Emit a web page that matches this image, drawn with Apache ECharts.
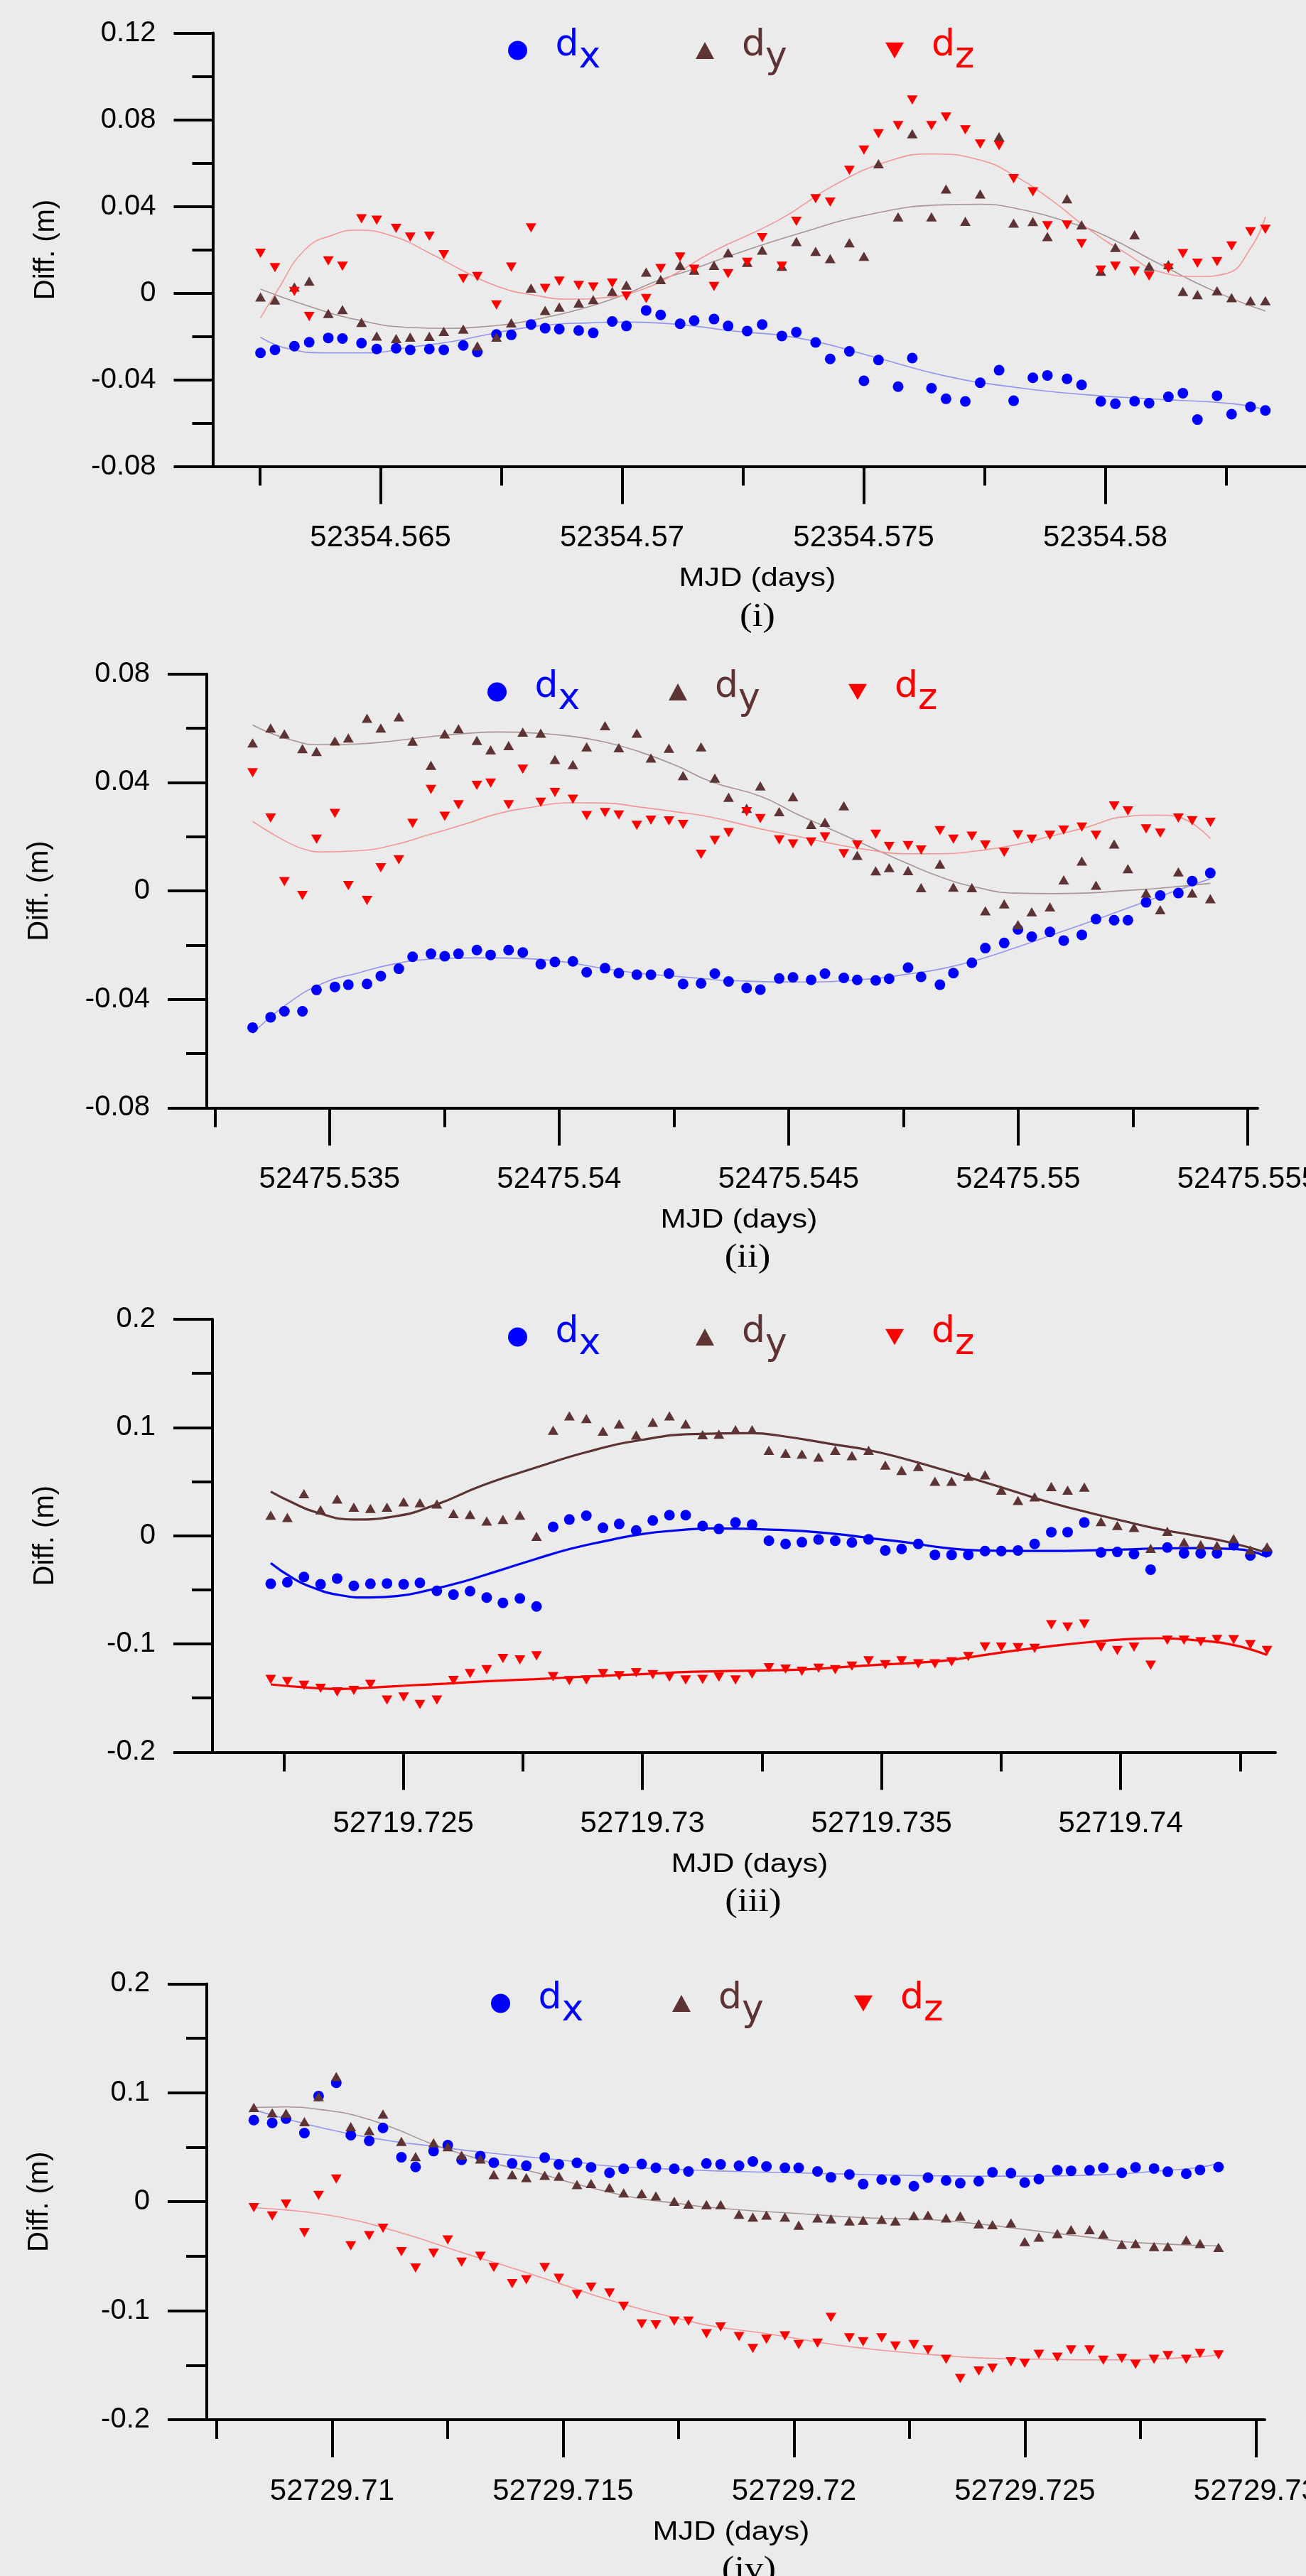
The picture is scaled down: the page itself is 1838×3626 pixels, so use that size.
<!DOCTYPE html>
<html>
<head>
<meta charset="utf-8">
<script src="https://cdn.jsdelivr.net/npm/echarts@6/dist/echarts.min.js"></script>
<style>
html,body{margin:0;padding:0;background:#ebebeb;}
#chart{width:1838px;height:3626px;}
</style>
</head>
<body>
<div id="chart"></div>
<script>
// ---------------- DATA ----------------
// Panel (i)
const p1T = [52354.562515,52354.562814,52354.563216,52354.563523,52354.563918,52354.564211,52354.564605,52354.56492,52354.565322,52354.565614,52354.566009,52354.566309,52354.566711,52354.567003,52354.567398,52354.567705,52354.568114,52354.568406,52354.568699,52354.569101,52354.569401,52354.569795,52354.570088,52354.570497,52354.570797,52354.571199,52354.571491,52354.571901,52354.572193,52354.572588,52354.572898,52354.573305,52354.573605,52354.574004,52354.574305,52354.574703,52354.575004,52354.575305,52354.575711,52354.576004,52354.576402,52354.576703,52354.577102,52354.57741,52354.577801,52354.578102,52354.5785,52354.578801,52354.579207,52354.579508,52354.579906,52354.580207,52354.580605,52354.580906,52354.581305,52354.581605,52354.581906,52354.582312,52354.582613,52354.583004,52354.583312];
const p1Dx = [-0.0276,-0.0262,-0.0245,-0.0227,-0.0207,-0.0210,-0.0231,-0.0258,-0.0255,-0.0262,-0.0258,-0.0262,-0.0242,-0.0272,-0.0191,-0.0193,-0.0145,-0.0162,-0.0166,-0.0173,-0.0184,-0.0131,-0.0152,-0.0080,-0.0101,-0.0142,-0.0127,-0.0120,-0.0152,-0.0175,-0.0145,-0.0198,-0.0180,-0.0228,-0.0304,-0.0269,-0.0405,-0.0309,-0.0432,-0.0300,-0.0439,-0.0488,-0.0500,-0.0414,-0.0356,-0.0497,-0.0391,-0.0380,-0.0396,-0.0424,-0.0500,-0.0511,-0.0499,-0.0508,-0.0479,-0.0462,-0.0584,-0.0474,-0.0559,-0.0525,-0.0542];
const p1Dy = [-0.0018,-0.0032,0.0028,0.0055,-0.0094,-0.0076,-0.0135,-0.0198,-0.0210,-0.0203,-0.0200,-0.0177,-0.0166,-0.0244,-0.0203,-0.0138,0.0023,-0.0080,-0.0065,-0.0046,-0.0030,0.0007,0.0037,0.0097,0.0062,0.0128,0.0106,0.0128,0.0186,0.0142,0.0198,0.0124,0.0238,0.0193,0.0159,0.0232,0.0170,0.0597,0.0352,0.0735,0.0352,0.0480,0.0331,0.0457,0.0721,0.0323,0.0330,0.0261,0.0435,0.0315,0.0101,0.0211,0.0269,0.0124,0.0131,0.0007,-0.0007,0.0011,-0.0021,-0.0035,-0.0035];
const p1Dz = [0.0184,0.0117,0.0007,-0.0108,0.0148,0.0124,0.0343,0.0336,0.0298,0.0258,0.0262,0.0177,0.0066,0.0076,-0.0055,0.0120,0.0301,0.0021,0.0055,0.0035,0.0028,0.0046,-0.0014,-0.0025,0.0113,0.0166,0.0110,0.0030,0.0089,0.0142,0.0256,0.0124,0.0331,0.0435,0.0420,0.0566,0.0660,0.0735,0.0773,0.0891,0.0773,0.0812,0.0753,0.0688,0.0680,0.0528,0.0467,0.0311,0.0314,0.0228,0.0106,0.0124,0.0101,0.0079,0.0115,0.0182,0.0138,0.0145,0.0217,0.0283,0.0294];
const p1FitDx = [[52354.562515,-0.0204],[52354.56307,-0.0256],[52354.563874,-0.0276],[52354.564751,-0.0276],[52354.565629,-0.0249],[52354.56636,-0.0228],[52354.567091,-0.0197],[52354.567822,-0.0166],[52354.568553,-0.0145],[52354.569284,-0.0138],[52354.570015,-0.0134],[52354.570746,-0.0138],[52354.571477,-0.0152],[52354.572208,-0.0173],[52354.573628,-0.0207],[52354.575132,-0.029],[52354.576635,-0.038],[52354.578139,-0.0435],[52354.579643,-0.047],[52354.581147,-0.0491],[52354.58265,-0.0511],[52354.583312,-0.0539]];
const p1FitDy = [[52354.562515,0.0018],[52354.563436,-0.0055],[52354.564532,-0.0124],[52354.565629,-0.0159],[52354.56636,-0.0163],[52354.567091,-0.0156],[52354.567822,-0.0138],[52354.568553,-0.0106],[52354.569284,-0.0065],[52354.570015,-0.001],[52354.570746,0.0058],[52354.571477,0.0111],[52354.572208,0.017],[52354.573628,0.0273],[52354.575132,0.0363],[52354.576635,0.0407],[52354.577387,0.041],[52354.578139,0.0391],[52354.579267,0.0325],[52354.580019,0.0262],[52354.581147,0.0131],[52354.582274,0.0007],[52354.583312,-0.0083]];
const p1FitDz = [[52354.562515,-0.0115],[52354.562851,0.0007],[52354.563436,0.02],[52354.56402,0.0269],[52354.564532,0.029],[52354.565263,0.0262],[52354.565994,0.0187],[52354.566725,0.0101],[52354.567456,0.0028],[52354.568187,-0.001],[52354.568918,-0.0028],[52354.569649,-0.0021],[52354.57038,0.0014],[52354.571111,0.009],[52354.571842,0.0187],[52354.573252,0.0338],[52354.57438,0.0497],[52354.575508,0.0608],[52354.57641,0.0642],[52354.577387,0.0615],[52354.578139,0.0539],[52354.578891,0.0428],[52354.579643,0.0297],[52354.580395,0.0188],[52354.581147,0.0097],[52354.581899,0.0076],[52354.5825,0.009],[52354.583026,0.0214],[52354.583312,0.0352]];

// Panel (ii)
const p2T = [52475.533323,52475.533715,52475.534015,52475.534408,52475.534715,52475.535115,52475.535408,52475.535815,52475.536115,52475.536508,52475.536808,52475.537208,52475.537508,52475.537808,52475.538208,52475.538508,52475.5389,52475.539208,52475.5396,52475.539908,52475.5403,52475.5406,52475.541,52475.5413,52475.541692,52475.542,52475.542392,52475.5427,52475.543092,52475.543392,52475.543692,52475.544085,52475.544383,52475.544794,52475.545095,52475.54549,52475.545791,52475.546202,52475.546494,52475.546897,52475.54719,52475.547601,52475.547885,52475.548296,52475.548589,52475.548992,52475.549285,52475.549696,52475.549996,52475.550296,52475.550692,52475.550992,52475.551387,52475.551696,52475.552091,52475.552391,52475.552787,52475.553095,52475.55349,52475.553791,52475.554186];
const p2Dx = [-0.0504,-0.0466,-0.0444,-0.0444,-0.0365,-0.0354,-0.0346,-0.0343,-0.0314,-0.0287,-0.0243,-0.0232,-0.0241,-0.0232,-0.0218,-0.0236,-0.0218,-0.0227,-0.0270,-0.0262,-0.0260,-0.0300,-0.0285,-0.0303,-0.0309,-0.0309,-0.0305,-0.0343,-0.0341,-0.0305,-0.0334,-0.0358,-0.0364,-0.0323,-0.0319,-0.0328,-0.0305,-0.0321,-0.0328,-0.0330,-0.0324,-0.0283,-0.0317,-0.0346,-0.0303,-0.0265,-0.0211,-0.0192,-0.0142,-0.0169,-0.0151,-0.0183,-0.0162,-0.0104,-0.0108,-0.0108,-0.0042,-0.0017,-0.0008,0.0036,0.0066];
const p2Dy = [0.0546,0.0601,0.0579,0.0525,0.0514,0.0553,0.0564,0.0637,0.0601,0.0642,0.0552,0.0463,0.0579,0.0598,0.0555,0.0520,0.0536,0.0586,0.0582,0.0485,0.0466,0.0531,0.0609,0.0528,0.0582,0.0490,0.0526,0.0425,0.0531,0.0416,0.0345,0.0305,0.0387,0.0292,0.0347,0.0245,0.0253,0.0314,0.0131,0.0074,0.0086,0.0075,0.0012,0.0099,0.0014,0.0012,-0.0073,-0.0048,-0.0124,-0.0077,-0.0059,0.0041,0.0110,0.0021,0.0173,0.0082,-0.0008,-0.0069,0.0070,-0.0008,-0.0029];
const p2Dz = [0.0436,0.0269,0.0034,-0.0017,0.0191,0.0286,0.0020,-0.0035,0.0085,0.0115,0.0249,0.0374,0.0275,0.0318,0.0389,0.0398,0.0318,0.0449,0.0327,0.0363,0.0338,0.0278,0.0289,0.0280,0.0242,0.0261,0.0258,0.0245,0.0135,0.0186,0.0215,0.0292,0.0267,0.0188,0.0173,0.0180,0.0199,0.0137,0.0169,0.0209,0.0164,0.0167,0.0151,0.0222,0.0191,0.0202,0.0169,0.0142,0.0207,0.0191,0.0205,0.0224,0.0235,0.0205,0.0313,0.0295,0.0229,0.0213,0.0269,0.0259,0.0253];
const p2FitDx = [[52475.533323,-0.0526],[52475.534077,-0.0417],[52475.534846,-0.0341],[52475.535615,-0.0303],[52475.536385,-0.027],[52475.537154,-0.0252],[52475.537923,-0.0247],[52475.538692,-0.0247],[52475.539462,-0.0251],[52475.540231,-0.0265],[52475.541,-0.0287],[52475.541769,-0.0304],[52475.542538,-0.0315],[52475.543308,-0.0326],[52475.543593,-0.033],[52475.545174,-0.0336],[52475.546755,-0.0325],[52475.547545,-0.0308],[52475.548336,-0.0287],[52475.549126,-0.0254],[52475.549917,-0.0211],[52475.550708,-0.0164],[52475.551498,-0.0118],[52475.552289,-0.0069],[52475.553079,-0.0021],[52475.554186,0.0045]];
const p2FitDy = [[52475.533323,0.0612],[52475.534077,0.0561],[52475.534846,0.0539],[52475.535615,0.0542],[52475.536385,0.0553],[52475.537154,0.0568],[52475.537923,0.058],[52475.538692,0.0586],[52475.539462,0.0582],[52475.540231,0.0571],[52475.541,0.0549],[52475.541769,0.0512],[52475.542538,0.0463],[52475.543308,0.0403],[52475.544383,0.0349],[52475.545174,0.0284],[52475.545964,0.0224],[52475.546755,0.0164],[52475.547545,0.0104],[52475.548336,0.005],[52475.549126,0.0012],[52475.549917,-0.0008],[52475.550708,-0.001],[52475.551498,-0.0008],[52475.552289,0.0001],[52475.553079,0.001],[52475.554186,0.0028]];
const p2FitDz = [[52475.533323,0.0256],[52475.533692,0.0217],[52475.534077,0.018],[52475.534462,0.0153],[52475.534846,0.0144],[52475.535615,0.0148],[52475.536385,0.0169],[52475.537154,0.0207],[52475.537923,0.0245],[52475.538692,0.0286],[52475.539462,0.031],[52475.540231,0.0325],[52475.541,0.0324],[52475.541769,0.0309],[52475.542538,0.0292],[52475.543308,0.0272],[52475.544383,0.0229],[52475.545174,0.0202],[52475.545964,0.0174],[52475.546755,0.0151],[52475.547545,0.0137],[52475.548336,0.0137],[52475.549126,0.0148],[52475.549917,0.0169],[52475.550708,0.0202],[52475.551498,0.0235],[52475.552289,0.0273],[52475.553079,0.028],[52475.553474,0.0273],[52475.554186,0.0193]];

// Panel (iii)
const p3T = [52719.722227,52719.722574,52719.722921,52719.723269,52719.723616,52719.723964,52719.724311,52719.724658,52719.725006,52719.725346,52719.725701,52719.726048,52719.726395,52719.726743,52719.727082,52719.727437,52719.727785,52719.728132,52719.728472,52719.728827,52719.729174,52719.729514,52719.729869,52719.730216,52719.730564,52719.730904,52719.731258,52719.731598,52719.731946,52719.732293,52719.732644,52719.732993,52719.733334,52719.733683,52719.734031,52719.73438,52719.734729,52719.735078,52719.735419,52719.735768,52719.736116,52719.736465,52719.736814,52719.737163,52719.737504,52719.737853,52719.738201,52719.73855,52719.738891,52719.73924,52719.739589,52719.73993,52719.740279,52719.740627,52719.740976,52719.741325,52719.741674,52719.742015,52719.742363,52719.742712,52719.743061];
const p3Dx = [-0.0444,-0.0430,-0.0381,-0.0449,-0.0395,-0.0463,-0.0444,-0.0441,-0.0449,-0.0435,-0.0509,-0.0544,-0.0512,-0.0571,-0.0620,-0.0580,-0.0653,0.0082,0.0150,0.0185,0.0073,0.0109,0.0049,0.0141,0.0190,0.0190,0.0090,0.0063,0.0122,0.0103,-0.0046,-0.0076,-0.0060,-0.0035,-0.0046,-0.0063,-0.0033,-0.0136,-0.0122,-0.0076,-0.0177,-0.0177,-0.0177,-0.0141,-0.0141,-0.0136,-0.0076,0.0033,0.0033,0.0122,-0.0155,-0.0150,-0.0169,-0.0313,-0.0109,-0.0163,-0.0163,-0.0163,-0.0087,-0.0182,-0.0150];
const p3Dy = [0.0190,0.0169,0.0389,0.0239,0.0340,0.0264,0.0253,0.0264,0.0313,0.0305,0.0294,0.0204,0.0196,0.0136,0.0150,0.0190,-0.0005,0.0974,0.1107,0.1083,0.0966,0.1034,0.0930,0.1048,0.1107,0.1034,0.0933,0.0939,0.0980,0.0980,0.0789,0.0762,0.0754,0.0727,0.0789,0.0740,0.0789,0.0653,0.0604,0.0639,0.0503,0.0503,0.0550,0.0563,0.0422,0.0327,0.0359,0.0454,0.0422,0.0449,0.0131,0.0095,0.0076,-0.0117,0.0041,-0.0060,-0.0082,-0.0090,-0.0027,-0.0131,-0.0103];
const p3Dz = [-0.1328,-0.1347,-0.1382,-0.1410,-0.1442,-0.1429,-0.1374,-0.1518,-0.1491,-0.1559,-0.1518,-0.1338,-0.1273,-0.1238,-0.1134,-0.1148,-0.1110,-0.1301,-0.1339,-0.1333,-0.1273,-0.1293,-0.1265,-0.1284,-0.1306,-0.1333,-0.1328,-0.1306,-0.1333,-0.1279,-0.1219,-0.1233,-0.1252,-0.1224,-0.1238,-0.1205,-0.1156,-0.1192,-0.1156,-0.1184,-0.1184,-0.1165,-0.1116,-0.1027,-0.1029,-0.1034,-0.1040,-0.0822,-0.0844,-0.0816,-0.1029,-0.1061,-0.1029,-0.1197,-0.0966,-0.0966,-0.0980,-0.0958,-0.0961,-0.1007,-0.1061];
const p3FitDx = [[52719.722227,-0.0253],[52719.722648,-0.0381],[52719.723091,-0.0476],[52719.723683,-0.055],[52719.724274,-0.0571],[52719.724865,-0.0558],[52719.72553,-0.0503],[52719.726269,-0.0422],[52719.727008,-0.0321],[52719.727747,-0.0218],[52719.728486,-0.0122],[52719.729225,-0.0049],[52719.729965,0.0014],[52719.730704,0.0049],[52719.731443,0.0068],[52719.732856,0.0054],[52719.733994,0.0019],[52719.734752,-0.0022],[52719.73551,-0.006],[52719.736268,-0.0109],[52719.737026,-0.0136],[52719.737784,-0.0141],[52719.738542,-0.0141],[52719.7393,-0.0136],[52719.740059,-0.0128],[52719.740817,-0.0117],[52719.741575,-0.0114],[52719.742333,-0.0122],[52719.742712,-0.0141],[52719.743061,-0.0196]];
const p3FitDy = [[52719.722227,0.0408],[52719.722648,0.0313],[52719.723165,0.0218],[52719.723978,0.015],[52719.724791,0.0177],[52719.725678,0.0286],[52719.726639,0.0463],[52719.727748,0.0626],[52719.728857,0.0776],[52719.729965,0.0884],[52719.731074,0.0939],[52719.732315,0.0947],[52719.732856,0.0925],[52719.733994,0.0844],[52719.734752,0.0789],[52719.73551,0.0707],[52719.736268,0.0612],[52719.737026,0.0512],[52719.737784,0.0408],[52719.738542,0.0305],[52719.7393,0.0218],[52719.740059,0.0136],[52719.740817,0.006],[52719.741575,0],[52719.742333,-0.0068],[52719.743061,-0.0158]];
const p3FitDz = [[52719.722227,-0.1374],[52719.722943,-0.1401],[52719.723683,-0.1415],[52719.724422,-0.1401],[52719.725161,-0.1382],[52719.7259,-0.1366],[52719.726639,-0.1347],[52719.727748,-0.1325],[52719.728857,-0.1301],[52719.729965,-0.1279],[52719.731074,-0.1257],[52719.732315,-0.1246],[52719.733235,-0.1238],[52719.734752,-0.1197],[52719.736268,-0.1156],[52719.737026,-0.111],[52719.737784,-0.1061],[52719.738542,-0.102],[52719.7393,-0.0985],[52719.740059,-0.0958],[52719.740817,-0.0947],[52719.741575,-0.0966],[52719.742333,-0.1007],[52719.743061,-0.1102]];

// Panel (iv)
const p4T = [52729.708305,52729.708703,52729.709002,52729.7094,52729.709707,52729.71009,52729.710404,52729.710803,52729.711102,52729.7115,52729.711807,52729.712197,52729.712504,52729.712803,52729.713209,52729.7135,52729.713898,52729.714205,52729.714603,52729.71491,52729.715301,52729.715607,52729.716006,52729.716312,52729.716703,52729.71701,52729.717408,52729.717715,52729.718105,52729.718412,52729.71881,52729.719109,52729.719404,52729.719804,52729.720102,52729.72051,52729.7208,52729.7212,52729.721498,52729.721898,52729.722196,52729.722596,52729.722902,52729.723294,52729.7236,52729.724,52729.724298,52729.724698,52729.724996,52729.725302,52729.725702,52729.726,52729.7264,52729.726698,52729.727098,52729.727396,52729.727796,52729.728094,52729.728494,52729.728792,52729.729192];
const p4Dx = [0.0749,0.0724,0.0762,0.0630,0.0970,0.1092,0.0611,0.0559,0.0678,0.0408,0.0319,0.0465,0.0519,0.0384,0.0419,0.0359,0.0351,0.0330,0.0405,0.0343,0.0357,0.0316,0.0265,0.0303,0.0346,0.0311,0.0303,0.0278,0.0351,0.0343,0.0330,0.0370,0.0324,0.0311,0.0311,0.0278,0.0224,0.0251,0.0162,0.0203,0.0197,0.0143,0.0222,0.0195,0.0170,0.0189,0.0270,0.0262,0.0176,0.0208,0.0289,0.0284,0.0289,0.0311,0.0265,0.0316,0.0305,0.0276,0.0257,0.0292,0.0319];
const p4Dy = [0.0865,0.0816,0.0811,0.0735,0.0965,0.1149,0.0689,0.0654,0.0805,0.0554,0.0414,0.0541,0.0505,0.0427,0.0392,0.0249,0.0249,0.0222,0.0243,0.0235,0.0157,0.0168,0.0130,0.0081,0.0076,0.0054,0.0005,-0.0022,-0.0027,-0.0027,-0.0114,-0.0141,-0.0122,-0.0141,-0.0216,-0.0149,-0.0157,-0.0176,-0.0170,-0.0162,-0.0176,-0.0127,-0.0122,-0.0149,-0.0130,-0.0203,-0.0211,-0.0195,-0.0365,-0.0324,-0.0292,-0.0257,-0.0257,-0.0297,-0.0392,-0.0384,-0.0411,-0.0411,-0.0351,-0.0384,-0.0419];
const p4Dz = [-0.0054,-0.0130,-0.0022,-0.0284,0.0059,0.0208,-0.0405,-0.0311,-0.0243,-0.0459,-0.0608,-0.0473,-0.0351,-0.0554,-0.0500,-0.0603,-0.0751,-0.0716,-0.0603,-0.0703,-0.0851,-0.0784,-0.0838,-0.0959,-0.1122,-0.1130,-0.1095,-0.1095,-0.1211,-0.1149,-0.1238,-0.1346,-0.1262,-0.1230,-0.1311,-0.1297,-0.1062,-0.1249,-0.1284,-0.1249,-0.1324,-0.1311,-0.1359,-0.1446,-0.1622,-0.1554,-0.1527,-0.1468,-0.1481,-0.1400,-0.1427,-0.1359,-0.1359,-0.1454,-0.1438,-0.1492,-0.1446,-0.1411,-0.1446,-0.1392,-0.1405];
const p4FitDx = [[52729.708305,0.0843],[52729.709033,0.0757],[52729.709799,0.0676],[52729.710566,0.0608],[52729.711331,0.0554],[52729.712098,0.0514],[52729.712864,0.0473],[52729.71363,0.0438],[52729.714397,0.0405],[52729.715163,0.0373],[52729.715929,0.033],[52729.716695,0.0311],[52729.717462,0.0297],[52729.718228,0.0284],[52729.720078,0.0265],[52729.721647,0.0249],[52729.723216,0.0238],[52729.724784,0.0235],[52729.726353,0.0243],[52729.727137,0.0257],[52729.727922,0.0284],[52729.728706,0.0311],[52729.729192,0.0351]];
const p4FitDy = [[52729.708305,0.0865],[52729.709033,0.087],[52729.709799,0.0843],[52729.710566,0.0784],[52729.711331,0.0676],[52729.712098,0.0541],[52729.712864,0.0432],[52729.71363,0.0338],[52729.714397,0.027],[52729.715163,0.0176],[52729.715929,0.0095],[52729.716695,0.0027],[52729.717462,-0.0014],[52729.718228,-0.0054],[52729.720078,-0.0108],[52729.721647,-0.0149],[52729.722824,-0.0162],[52729.724,-0.0203],[52729.724784,-0.0243],[52729.725569,-0.0284],[52729.726353,-0.0324],[52729.727137,-0.0365],[52729.727922,-0.0386],[52729.728706,-0.04],[52729.729192,-0.0405]];
const p4FitDz = [[52729.708305,-0.0054],[52729.709033,-0.0076],[52729.709799,-0.0114],[52729.710566,-0.0176],[52729.711331,-0.0265],[52729.712098,-0.0365],[52729.712864,-0.0473],[52729.71363,-0.0573],[52729.714397,-0.0676],[52729.715163,-0.0784],[52729.715929,-0.0892],[52729.716695,-0.0986],[52729.717462,-0.1068],[52729.718228,-0.1141],[52729.719294,-0.1203],[52729.720078,-0.1257],[52729.720863,-0.1311],[52729.721647,-0.1351],[52729.722431,-0.1384],[52729.723216,-0.1411],[52729.724,-0.1432],[52729.724784,-0.1441],[52729.725569,-0.1446],[52729.726353,-0.1451],[52729.727137,-0.1451],[52729.727922,-0.1441],[52729.728706,-0.1424],[52729.729192,-0.1405]];

// Tick labels / tick positions
const p1XLabels = ['52354.565','52354.57','52354.575','52354.58'];
const p1XMinor = [52354.5625,52354.5675,52354.5725,52354.5775,52354.5825];
const p2XLabels = ['52475.535','52475.54','52475.545','52475.55','52475.555'];
const p2XMinor = [52475.5325,52475.5375,52475.5425,52475.5475,52475.5525];
const p3XLabels = ['52719.725','52719.73','52719.735','52719.74'];
const p3XMinor = [52719.7225,52719.7275,52719.7325,52719.7375,52719.7425];
const p4XLabels = ['52729.71','52729.715','52729.72','52729.725','52729.73'];
const p4XMinor = [52729.7075,52729.7125,52729.7175,52729.7225,52729.7275];
const p1YLabels = ['-0.08','-0.04','0','0.04','0.08','0.12'];
const p1YMinor = [-0.06,-0.02,0.02,0.06,0.1];
const p2YLabels = ['-0.08','-0.04','0','0.04','0.08'];
const p2YMinor = [-0.06,-0.02,0.02,0.06];
const p34YLabels = ['-0.2','-0.1','0','0.1','0.2'];
const p34YMinor = [-0.15,-0.05,0.05,0.15];
const xRanges = [[52354.561528,52354.584153],[52475.532324,52475.555218],[52719.721008,52719.743237],[52729.707286,52729.730194]];
const yRanges = [[-0.08,0.12],[-0.08,0.08],[-0.2,0.2],[-0.2,0.2]];
const captions = ['(i)','(ii)','(iii)','(iv)'];
const seriesNames = ['dx','dy','dz'];
const subs = ['x','y','z'];

// ---------------- LAYOUT / STYLE ----------------
const grids = [
  {left:299.5, top:46.5, width:1538.5, height:610},
  {left:291, top:948.7, width:1479, height:610.7},
  {left:299, top:1857, width:1496, height:609.4},
  {left:291, top:2792.4, width:1489, height:613.6}
];
const COLORS = ['#0000ff','#5e3333','#ff0000'];
const THIN = ['#9494ee','#a89494','#f29696'];
const INV_TRI = 'path://M0,0L10,0L5,8.6Z';
const SANS = 'Liberation Sans';

const panels = [
  {t:p1T, v:[p1Dx,p1Dy,p1Dz], fit:[p1FitDx,p1FitDy,p1FitDz], xl:p1XLabels, xm:p1XMinor, yl:p1YLabels, ym:p1YMinor, bold:false},
  {t:p2T, v:[p2Dx,p2Dy,p2Dz], fit:[p2FitDx,p2FitDy,p2FitDz], xl:p2XLabels, xm:p2XMinor, yl:p2YLabels, ym:p2YMinor, bold:false},
  {t:p3T, v:[p3Dx,p3Dy,p3Dz], fit:[p3FitDx,p3FitDy,p3FitDz], xl:p3XLabels, xm:p3XMinor, yl:p34YLabels, ym:p34YMinor, bold:true},
  {t:p4T, v:[p4Dx,p4Dy,p4Dz], fit:[p4FitDx,p4FitDy,p4FitDz], xl:p4XLabels, xm:p4XMinor, yl:p34YLabels, ym:p34YMinor, bold:false}
];
const legendPos = [
  [[729,73],[992,73],[1259,73]],
  [[700,976],[954,976],[1207,976]],
  [[729,1884],[992,1884],[1259,1884]],
  [[705,2822],[959,2822],[1215,2822]]
];
const nameX = [1066, 1040, 1055, 1029];
const capX = [1066, 1052, 1060, 1054];

function pick(labels){
  return function(v){
    let best = labels[0], bd = Infinity;
    for (const s of labels){ const d = Math.abs(Number(s) - v); if (d < bd){ bd = d; best = s; } }
    return best;
  };
}
const axisLineStyle = {color:'#000', width:4};

const option = {
  animation:false,
  backgroundColor:'#ebebeb',
  textStyle:{fontFamily:SANS},
  grid:[], xAxis:[], yAxis:[], series:[], legend:[], graphic:[]
};

panels.forEach((p, i) => {
  const g = grids[i];
  option.grid.push({left:g.left, top:g.top, width:g.width, height:g.height, containLabel:false, outerBoundsMode:'none', show:false});
  const xNums = p.xl.map(Number), yNums = p.yl.map(Number);
  option.xAxis.push({
    type:'value', gridIndex:i, position:'bottom', min:xRanges[i][0], max:xRanges[i][1],
    axisLine:{show:true, onZero:false, lineStyle:axisLineStyle},
    axisTick:{show:true, customValues:xNums, length:53, lineStyle:axisLineStyle},
    axisLabel:{show:true, customValues:xNums, formatter:pick(p.xl), margin:80, fontSize:42, fontFamily:SANS, color:'#000'},
    splitLine:{show:false}
  });
  option.xAxis.push({
    type:'value', gridIndex:i, position:'bottom', min:xRanges[i][0], max:xRanges[i][1],
    axisLine:{show:false, onZero:false},
    axisTick:{show:true, customValues:p.xm, length:27, lineStyle:axisLineStyle},
    axisLabel:{show:false}, splitLine:{show:false}
  });
  option.yAxis.push({
    type:'value', gridIndex:i, position:'left', min:yRanges[i][0], max:yRanges[i][1],
    name:'Diff. (m)', nameLocation:'middle', nameRotate:90, nameGap:215, nameMoveOverlap:false,
    nameTextStyle:{fontSize:40, fontFamily:SANS, color:'#000'},
    axisLine:{show:true, onZero:false, lineStyle:axisLineStyle},
    axisTick:{show:true, customValues:yNums, length:55, lineStyle:axisLineStyle},
    axisLabel:{show:true, customValues:yNums, formatter:pick(p.yl), margin:80, fontSize:40, fontFamily:SANS, color:'#000'},
    splitLine:{show:false}
  });
  option.yAxis.push({
    type:'value', gridIndex:i, position:'left', min:yRanges[i][0], max:yRanges[i][1],
    axisLine:{show:false, onZero:false},
    axisTick:{show:true, customValues:p.ym, length:29, lineStyle:axisLineStyle},
    axisLabel:{show:false}, splitLine:{show:false}
  });
  const xi = 2*i, yi = 2*i;
  for (let k = 0; k < 3; k++){
    option.series.push({
      type:'line', name:'fit-'+seriesNames[k]+'-'+(i+1), xAxisIndex:xi, yAxisIndex:yi,
      data:p.fit[k], smooth:0.5, symbol:'none', silent:true, z:1,
      lineStyle:p.bold ? {color:COLORS[k], width:3.2} : {color:THIN[k], width:1.6}
    });
  }
  const syms = ['circle','triangle',INV_TRI];
  const sizes = [15,[15,13],[15,13]];
  for (let k = 0; k < 3; k++){
    option.series.push({
      type:'scatter', name:seriesNames[k], xAxisIndex:xi, yAxisIndex:yi,
      data:p.t.map((t, j) => [t, p.v[k][j]]),
      symbol:syms[k], symbolSize:sizes[k], z:3,
      itemStyle:{color:COLORS[k], opacity:1}
    });
  }
  const iconW = [28,26,26], iconH = [27,24,24];
  const icons = ['circle','triangle',INV_TRI];
  for (let k = 0; k < 3; k++){
    const [cx, cy] = legendPos[i][k];
    option.legend.push({
      data:[{name:seriesNames[k], icon:icons[k]}],
      left:cx - iconW[k]/2, top:cy - 38, padding:0,
      itemWidth:iconW[k], itemHeight:iconH[k], selectedMode:false,
      formatter:function(){ return '{d|d}{s|' + subs[k] + '}'; },
      textStyle:{
        color:COLORS[k],
        rich:{
          d:{fontFamily:'DejaVu Sans', fontSize:52, lineHeight:56, color:COLORS[k], padding:[0,0,14,34]},
          s:{fontFamily:'DejaVu Sans', fontSize:52, lineHeight:56, color:COLORS[k], padding:[20,0,0,0]}
        }
      }
    });
  }
  const axisY = g.top + g.height;
  option.graphic.push({
    type:'text', x:nameX[i], y:axisY + 159, scaleX:1.2,
    style:{text:'MJD (days)', fontSize:36, fontFamily:SANS, fill:'#000', textAlign:'center', textVerticalAlign:'middle', align:'center', verticalAlign:'middle'}
  });
  option.graphic.push({
    type:'text', x:capX[i], y:axisY + 212, scaleX:1.15,
    style:{text:captions[i], fontSize:46, fontFamily:'Liberation Serif', fill:'#000', textAlign:'center', textVerticalAlign:'middle', align:'center', verticalAlign:'middle'}
  });
});

const chart = echarts.init(document.getElementById('chart'), null, {renderer:'canvas', width:1838, height:3626});
chart.setOption(option);
</script>
</body>
</html>
